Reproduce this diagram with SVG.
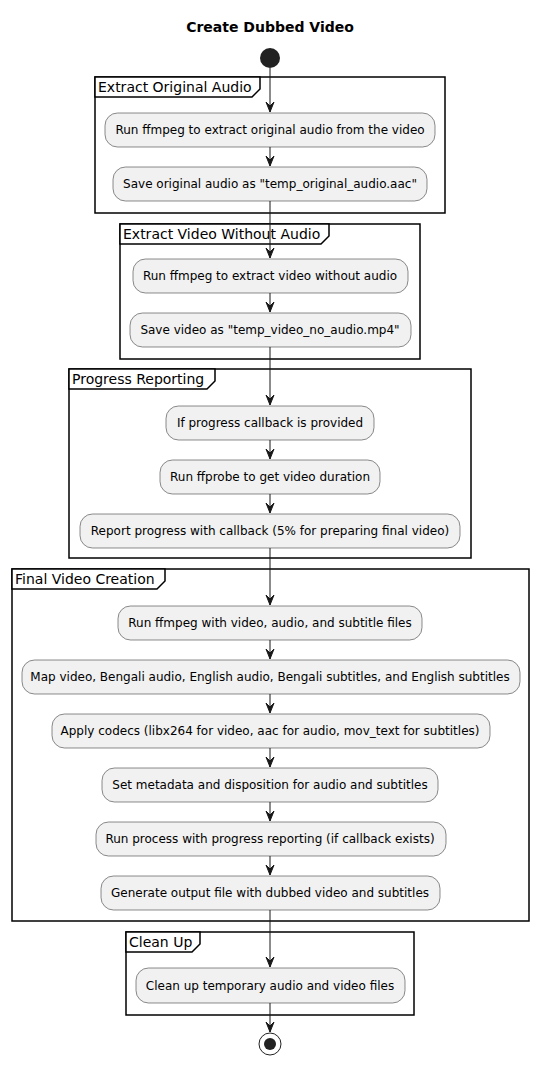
<svg xmlns="http://www.w3.org/2000/svg" width="540" height="1066" viewBox="0 0 540 1066">
<defs>
<style>
.t{font-family:"DejaVu Sans",sans-serif;font-size:12px;fill:#000;text-anchor:middle}
.title{font-family:"DejaVu Sans",sans-serif;font-size:14px;font-weight:bold;fill:#000;text-anchor:middle}
.pl{font-family:"DejaVu Sans",sans-serif;font-size:14px;fill:#000}
.a{fill:#F1F1F1;stroke:#181818;stroke-width:0.5}
.p{fill:none;stroke:#000;stroke-width:1.5}
.tab{fill:#fff;stroke:#000;stroke-width:1.5}
.c{stroke:#181818;stroke-width:1;fill:none}
</style>
<marker id="ah" markerWidth="14" markerHeight="12" viewBox="-12 -6 14 12" refX="0" refY="0" orient="auto" markerUnits="userSpaceOnUse" overflow="visible">
<path d="M-10,-4 L0,0 L-10,4 L-6,0 Z" fill="#181818" stroke="#181818" stroke-width="1" stroke-linejoin="miter"/>
</marker>
</defs>
<rect width="540" height="1066" fill="#fff"/>
<text class="title" x="270" y="32">Create Dubbed Video</text>

<g id="partitions">
<g id="p1"><rect class="p" x="95" y="77" width="350" height="136"/><path class="tab" d="M95,77 H260 V89 L252,97 H95 Z"/><text class="pl" x="98" y="92">Extract Original Audio</text></g>
<g id="p2"><rect class="p" x="120" y="224" width="300" height="135"/><path class="tab" d="M120,224 H329 V236 L321,244 H120 Z"/><text class="pl" x="123" y="239">Extract Video Without Audio</text></g>
<g id="p3"><rect class="p" x="69" y="369" width="402" height="189"/><path class="tab" d="M69,369 H215 V381 L207,389 H69 Z"/><text class="pl" x="72" y="384">Progress Reporting</text></g>
<g id="p4"><rect class="p" x="12" y="569" width="517" height="352"/><path class="tab" d="M12,569 H165 V581 L157,589 H12 Z"/><text class="pl" x="15" y="584">Final Video Creation</text></g>
<g id="p5"><rect class="p" x="126" y="932" width="288" height="83"/><path class="tab" d="M126,932 H200 V944 L192,952 H126 Z"/><text class="pl" x="129" y="947">Clean Up</text></g>
</g>

<g id="connectors">
<line class="c" x1="270" y1="68" x2="270" y2="112" marker-end="url(#ah)"/>
<line class="c" x1="270" y1="147" x2="270" y2="166" marker-end="url(#ah)"/>
<line class="c" x1="270" y1="201" x2="270" y2="258" marker-end="url(#ah)"/>
<line class="c" x1="270" y1="293" x2="270" y2="312" marker-end="url(#ah)"/>
<line class="c" x1="270" y1="347" x2="270" y2="405" marker-end="url(#ah)"/>
<line class="c" x1="270" y1="440" x2="270" y2="459" marker-end="url(#ah)"/>
<line class="c" x1="270" y1="494" x2="270" y2="513" marker-end="url(#ah)"/>
<line class="c" x1="270" y1="548" x2="270" y2="605" marker-end="url(#ah)"/>
<line class="c" x1="270" y1="640" x2="270" y2="659" marker-end="url(#ah)"/>
<line class="c" x1="270" y1="694" x2="270" y2="713" marker-end="url(#ah)"/>
<line class="c" x1="270" y1="748" x2="270" y2="767" marker-end="url(#ah)"/>
<line class="c" x1="270" y1="802" x2="270" y2="821" marker-end="url(#ah)"/>
<line class="c" x1="270" y1="856" x2="270" y2="875" marker-end="url(#ah)"/>
<line class="c" x1="270" y1="910" x2="270" y2="967" marker-end="url(#ah)"/>
<line class="c" x1="270" y1="1003" x2="270" y2="1032" marker-end="url(#ah)"/>
</g>

<g id="start"><circle cx="270" cy="58" r="10" fill="#222"/></g>

<g id="n1"><rect class="a" x="105" y="113" width="330" height="34" rx="12.5"/><text class="t" x="270" y="134">Run ffmpeg to extract original audio from the video</text></g>
<g id="n2"><rect class="a" x="113" y="167" width="314" height="34" rx="12.5"/><text class="t" x="270" y="188">Save original audio as "temp_original_audio.aac"</text></g>
<g id="n3"><rect class="a" x="133" y="259" width="275" height="34" rx="12.5"/><text class="t" x="270" y="280">Run ffmpeg to extract video without audio</text></g>
<g id="n4"><rect class="a" x="130" y="313" width="281" height="34" rx="12.5"/><text class="t" x="270" y="334">Save video as "temp_video_no_audio.mp4"</text></g>
<g id="n5"><rect class="a" x="166" y="406" width="208" height="34" rx="12.5"/><text class="t" x="270" y="427">If progress callback is provided</text></g>
<g id="n6"><rect class="a" x="160" y="460" width="220" height="34" rx="12.5"/><text class="t" x="270" y="481">Run ffprobe to get video duration</text></g>
<g id="n7"><rect class="a" x="80" y="514" width="380" height="34" rx="12.5"/><text class="t" x="270" y="535">Report progress with callback (5% for preparing final video)</text></g>
<g id="n8"><rect class="a" x="118" y="606" width="304" height="34" rx="12.5"/><text class="t" x="270" y="627">Run ffmpeg with video, audio, and subtitle files</text></g>
<g id="n9"><rect class="a" x="22" y="660" width="498" height="34" rx="12.5"/><text class="t" x="270" y="681">Map video, Bengali audio, English audio, Bengali subtitles, and English subtitles</text></g>
<g id="n10"><rect class="a" x="52" y="714" width="438" height="34" rx="12.5"/><text class="t" x="270" y="735">Apply codecs (libx264 for video, aac for audio, mov_text for subtitles)</text></g>
<g id="n11"><rect class="a" x="102" y="768" width="336" height="34" rx="12.5"/><text class="t" x="270" y="789">Set metadata and disposition for audio and subtitles</text></g>
<g id="n12"><rect class="a" x="96" y="822" width="350" height="34" rx="12.5"/><text class="t" x="270" y="843">Run process with progress reporting (if callback exists)</text></g>
<g id="n13"><rect class="a" x="101" y="876" width="339" height="34" rx="12.5"/><text class="t" x="270" y="897">Generate output file with dubbed video and subtitles</text></g>
<g id="n14"><rect class="a" x="136" y="968" width="269" height="35" rx="12.5"/><text class="t" x="270" y="990">Clean up temporary audio and video files</text></g>

<g id="end"><circle cx="270" cy="1044" r="11" fill="none" stroke="#222" stroke-width="1"/><circle cx="270" cy="1044" r="6" fill="#222"/></g>
</svg>
